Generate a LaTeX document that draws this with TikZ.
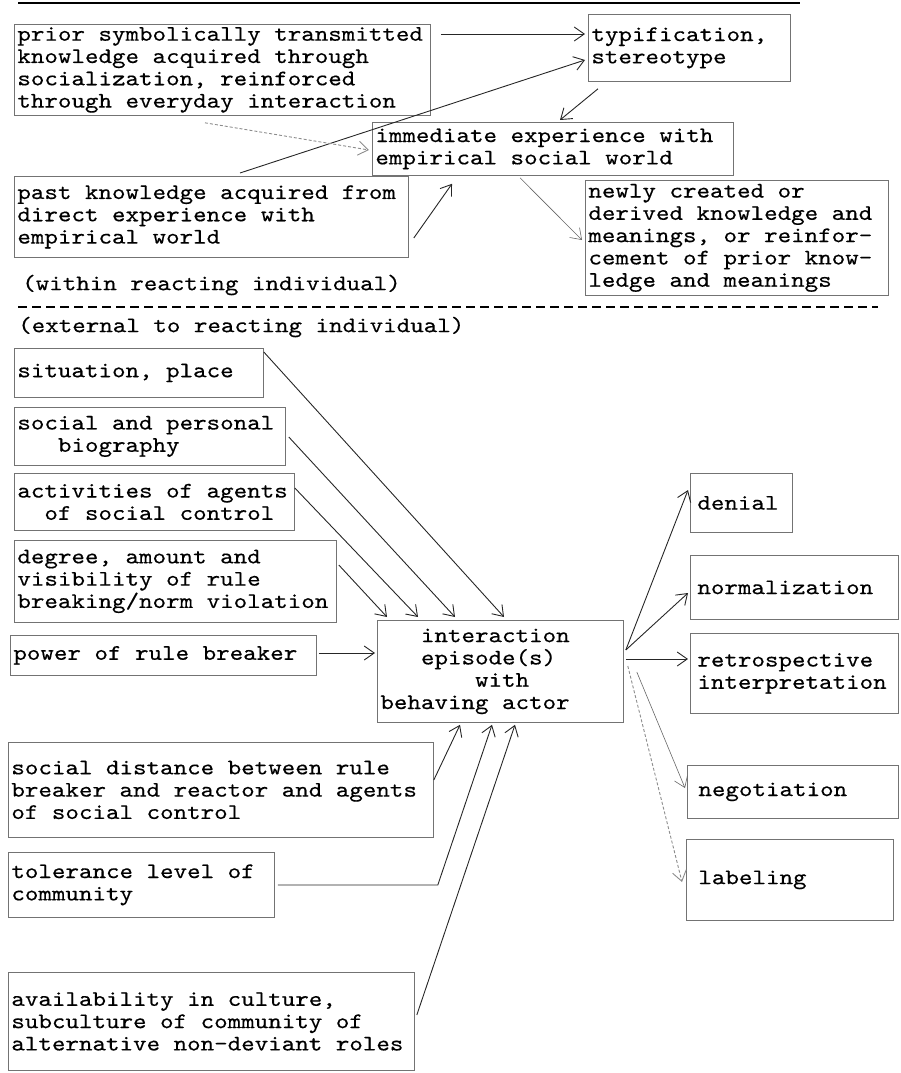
\documentclass[tikz,border=0pt]{standalone}
\usepackage{fontspec}
\setmonofont[FakeStretch=1.16, FakeBold=0.4]{lmmono10-regular.otf}
\usetikzlibrary{arrows.meta}

\begin{document}
\begin{tikzpicture}[x=1pt, y=-1pt,
  font=\ttfamily\fontsize{22.2}{22.3}\selectfont,
  box/.style={rectangle, draw=black!55, line width=0.8pt, anchor=north west, align=left, inner xsep=3pt, inner ysep=1pt,
    execute at begin node={\spaceskip=\fontdimen2\font\xspaceskip=\fontdimen2\font\lineskiplimit=-20pt}},
  note/.style={anchor=west, inner sep=0pt},
  arr/.style={-{Straight Barb[length=10pt, width=14pt]}, draw=black!85, line width=0.9pt},
  faint/.style={arr, draw=black!45, densely dashed},
  thin/.style={arr, draw=black!60, line width=0.6pt}]
\useasboundingbox (0,0) rectangle (900,1073);
\draw[line width=1.5pt] (18,3) -- (800,3);
\node[box, text width=410pt, minimum height=91pt] (prior) at (14,24) {prior symbolically transmitted\\knowledge acquired through\\socialization, reinforced\\through everyday interaction};
\node[box, text width=196pt, minimum height=67pt] (typ) at (588,14) {typification,\\stereotype};
\node[box, text width=355pt, minimum height=53pt] (imm) at (372,122) {immediate experience with\\empirical social world};
\node[box, text width=388pt, minimum height=81pt] (past) at (14,176) {past knowledge acquired from\\direct experience with\\empirical world};
\node[box, text width=297pt, minimum height=115pt] (newly) at (585,180) {newly created or\\derived knowledge and\\meanings, or reinfor-\\cement of prior know-\\ledge and meanings};
\node[note] (within) at (22,285) {(within reacting individual)};
\draw[line width=1.3pt, dash pattern=on 9pt off 5pt] (18,307) -- (878,307);
\node[note] (external) at (18,327) {(external to reacting individual)};
\node[box, text width=243pt, minimum height=49pt] (sit) at (14,348) {situation, place};
\node[box, text width=265pt, minimum height=58pt] (soc) at (14,407) {social and personal\\\phantom{aaa}biography};
\node[box, text width=274pt, minimum height=57pt] (act) at (14,473) {activities of agents\\\phantom{aa}of social control};
\node[box, text width=316pt, minimum height=82pt] (deg) at (14,540) {degree, amount and\\visibility of rule\\breaking/norm violation};
\node[box, text width=300pt, minimum height=40pt] (pow) at (10,635) {power of rule breaker};
\node[box, text width=240pt, minimum height=102pt] (inter) at (377,620) {\phantom{aaa}interaction\\\phantom{aaa}episode(s)\\\phantom{aaaaaaa}with\\behaving actor};
\node[box, text width=419pt, minimum height=95pt] (socd) at (8,742) {social distance between rule\\breaker and reactor and agents\\of social control};
\node[box, text width=260pt, minimum height=65pt] (tol) at (8,852) {tolerance level of\\community};
\node[box, text width=400pt, minimum height=98pt] (avail) at (8,972) {availability in culture,\\subculture of community of\\alternative non-deviant roles};
\node[box, text width=96pt, minimum height=59pt] (den) at (690,473) {\hspace*{4pt}denial};
\node[box, text width=202pt, minimum height=64pt] (norm) at (690,555) {\hspace*{4pt}normalization};
\node[box, text width=202pt, minimum height=80pt] (retro) at (690,633) {\hspace*{4pt}retrospective\\\hspace*{4pt}interpretation};
\node[box, text width=205pt, minimum height=53pt] (neg) at (687,765) {\hspace*{8pt}negotiation};
\node[box, text width=201pt, minimum height=81pt] (lab) at (686,839) {\hspace*{9pt}labeling};
\draw[arr] ([xshift=10pt, yshift=-10pt]prior.north east) -- ([xshift=-3pt, yshift=-20pt]typ.north west);
\draw[arr] ([xshift=226pt, yshift=3pt]past.north west) -- ([xshift=-3pt, yshift=-46pt]typ.north west);
\draw[faint] ([xshift=191pt, yshift=-7pt]prior.south west) -- ([xshift=-3pt, yshift=-28pt]imm.north west);
\draw[arr] ([xshift=10pt, yshift=-7pt]typ.south west) -- ([xshift=188pt, yshift=2pt]imm.north west);
\draw[arr] ([xshift=5pt, yshift=-62pt]past.north east) -- ([xshift=80pt, yshift=-8pt]imm.south west);
\draw[thin] ([xshift=148pt, yshift=-2pt]imm.south west) -- ([xshift=-3pt, yshift=-60pt]newly.north west);
\draw[arr] ([yshift=-4pt]sit.north east) -- ([xshift=127pt, yshift=3pt]inter.north west);
\draw[arr] ([xshift=3pt, yshift=-30pt]soc.north east) -- ([xshift=78pt, yshift=3pt]inter.north west);
\draw[arr] ([yshift=-15pt]act.north east) -- ([xshift=41pt, yshift=3pt]inter.north west);
\draw[arr] ([xshift=2pt, yshift=-25pt]deg.north east) -- ([xshift=10pt, yshift=3pt]inter.north west);
\draw[arr] ([xshift=2pt, yshift=-18pt]pow.north east) -- ([xshift=-2pt, yshift=-33pt]inter.north west);
\draw[arr] ([yshift=-38pt]socd.north east) -- ([xshift=83pt, yshift=-2pt]inter.south west);
\draw[arr] ([xshift=3pt, yshift=-33pt]tol.north east) -- ++(160,0) -- ([xshift=115pt, yshift=-2pt]inter.south west);
\draw[arr] ([xshift=2pt, yshift=-43pt]avail.north east) -- ([xshift=138pt, yshift=-2pt]inter.south west);
\draw[arr] ([xshift=2pt, yshift=-30pt]inter.north east) -- ([xshift=-2pt, yshift=-17pt]den.north west);
\draw[arr] ([xshift=2pt, yshift=-30pt]inter.north east) -- ([xshift=-2pt, yshift=-38pt]norm.north west);
\draw[arr] ([xshift=2pt, yshift=-39pt]inter.north east) -- ([xshift=-2pt, yshift=-26pt]retro.north west);
\draw[thin] ([xshift=13pt, yshift=-52pt]inter.north east) -- ([xshift=-2pt, yshift=-23pt]neg.north west);
\draw[faint] ([xshift=4pt, yshift=-46pt]inter.north east) -- ([xshift=-4pt, yshift=-43pt]lab.north west);
\end{tikzpicture}
\end{document}
